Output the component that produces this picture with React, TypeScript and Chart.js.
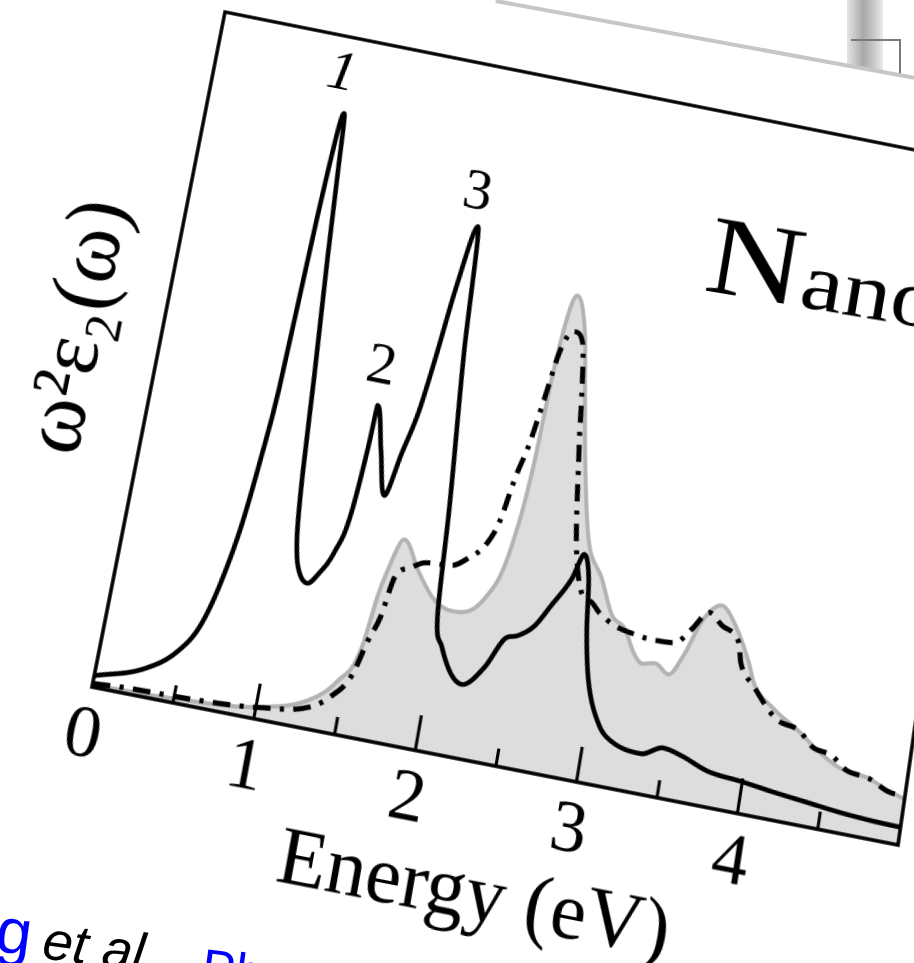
import React, { useEffect, useRef } from "react";
import { Chart, registerables } from "chart.js";

Chart.register(...registerables);

// ---------------- data (energy in eV, value in % of plot height) ----------------
const SOLID_E = [0, 0.29, 0.47, 0.58, 0.65, 0.71, 0.75, 0.78, 0.815, 0.845, 0.862, 0.89, 0.925, 0.98, 1.02, 1.05, 1.08, 1.12, 1.17, 1.23, 1.3, 1.36, 1.39, 1.4, 1.47, 1.54, 1.6, 1.66, 1.7, 1.75, 1.82, 1.87, 1.95, 1.99, 2.05, 2.21, 2.33, 2.42, 2.5, 2.59, 2.67, 2.77, 2.82, 2.87, 2.91, 2.97, 3.08, 3.17, 3.36, 3.49, 3.61, 3.78, 3.99, 4.2, 4.41, 4.62, 4.83, 5.0];
const SOLID_V = [1.6, 3.9, 7.2, 11.6, 17.9, 26.6, 36.6, 46.6, 71.9, 86.5, 88.5, 80, 67.3, 49.5, 35.3, 27.5, 23.4, 21.0, 20.1, 21.8, 25.2, 31.4, 41.5, 47.1, 40.8, 34.5, 41.0, 47.6, 55.1, 66.0, 75.8, 57.5, 34.2, 19.6, 15.0, 10.3, 13.3, 17.7, 18.6, 20.4, 23.7, 28.1, 31.8, 28.6, 21.4, 14.4, 8.4, 6.5, 5.6, 7.0, 6.4, 5.0, 4.5, 3.9, 3.4, 2.9, 2.6, 2.5];

const DASH_E = [0, 0.21, 0.62, 1.03, 1.33, 1.44, 1.54, 1.6, 1.65, 1.69, 1.77, 1.86, 2.03, 2.12, 2.21, 2.27, 2.32, 2.37, 2.41, 2.46, 2.53, 2.59, 2.64, 2.67, 2.69, 2.73, 2.77, 2.85, 2.91, 2.97, 3.08, 3.23, 3.3, 3.46, 3.55, 3.64, 3.73, 3.85, 3.88, 3.98, 4.16, 4.29, 4.4, 4.51, 4.63, 4.76, 4.89, 5.0];
const DASH_V = [0.5, 0.8, 1.0, 1.7, 3.2, 5.2, 8.6, 13.9, 17.5, 23.2, 25.0, 26.2, 26.6, 28.1, 30.4, 34.1, 40.8, 45.9, 52.0, 60.0, 63.3, 62.0, 54.5, 48.3, 44.8, 37.6, 31.9, 26.0, 25.3, 24.0, 22.6, 21.9, 21.7, 21.9, 24.3, 27.1, 25.6, 23.6, 20.9, 18.0, 13.9, 13.2, 11.1, 10.6, 8.8, 8.4, 7.1, 6.8];

const GRAY_E = [0, 0.5, 1.03, 1.32, 1.46, 1.57, 1.61, 1.63, 1.71, 1.83, 1.95, 2.07, 2.26, 2.37, 2.42, 2.44, 2.51, 2.59, 2.66, 2.73, 2.84, 2.95, 3.05, 3.14, 3.22, 3.28, 3.36, 3.45, 3.53, 3.6, 3.71, 3.8, 3.93, 3.98, 4.13, 4.29, 4.43, 4.58, 4.76, 4.89, 5.0];
const GRAY_V = [0.3, 0.6, 1.8, 4.2, 7.4, 12.8, 20.4, 22.9, 28.9, 24.8, 21.4, 20.2, 22.9, 31.2, 43.8, 56.3, 68.6, 64.0, 54.5, 45.0, 33.3, 28.9, 24.0, 22.5, 19.3, 18.1, 18.5, 17.3, 20.7, 25.5, 28.4, 26.4, 21.1, 18.4, 15.3, 13.1, 10.8, 9.0, 8.4, 7.2, 6.5];

const X_TICK_VALUES = [0, 1, 2, 3, 4];
const X_TICK_LABELS = ["0", "1", "2", "3", "4"];
const MAJOR_MARKS = [1, 2, 3, 4];
const MINOR_MARKS = [0.5, 1.5, 2.5, 3.5, 4.5];

const PEAK_LABELS = ["1", "2", "3"];
const PEAK_LABEL_E = [0.8, 1.38, 1.78];
const PEAK_LABEL_V = [94.2, 52.6, 80.6];

const X_TITLE = "Energy (eV)";
const Y_TITLE = "ω²ε₂(ω)";

// ---------------- layout ----------------
const CANVAS_W = 965;
const CANVAS_H = 885;
const QUAD_TL: [number, number] = [225, 12];
const QUAD_TR: [number, number] = [995, 166];
const QUAD_BR: [number, number] = [898, 845];
const QUAD_BL: [number, number] = [92, 687];
const SERIF = '"Liberation Serif", "DejaVu Serif", serif';
const SANS = '"Liberation Sans", Arial, sans-serif';

function squareToQuad(p0: number[], p1: number[], p2: number[], p3: number[]) {
  const [x0, y0] = p0, [x1, y1] = p1, [x2, y2] = p2, [x3, y3] = p3;
  const sx = x0 - x1 + x2 - x3;
  const sy = y0 - y1 + y2 - y3;
  const dx1 = x1 - x2, dx2 = x3 - x2, dy1 = y1 - y2, dy2 = y3 - y2;
  const den = dx1 * dy2 - dx2 * dy1;
  const g = (sx * dy2 - dx2 * sy) / den;
  const h = (dx1 * sy - sx * dy1) / den;
  return {
    a: x1 - x0 + g * x1, b: x3 - x0 + h * x3, c: x0,
    d: y1 - y0 + g * y1, e: y3 - y0 + h * y3, f: y0,
    g, h,
  };
}

function homographyCss(area: { left: number; top: number; right: number; bottom: number }) {
  const L = area.left, T = area.top;
  const W = area.right - area.left, H = area.bottom - area.top;
  const m = squareToQuad(QUAD_TL, QUAD_TR, QUAD_BR, QUAD_BL);
  const A = m.a / W, B = m.b / H, C = m.c - (m.a * L) / W - (m.b * T) / H;
  const D = m.d / W, E = m.e / H, F = m.f - (m.d * L) / W - (m.e * T) / H;
  const G = m.g / W, Hp = m.h / H, I = 1 - (m.g * L) / W - (m.h * T) / H;
  return `matrix3d(${A},${D},0,${G},${B},${E},0,${Hp},0,0,1,0,${C},${F},0,${I})`;
}

const frameMarks = {
  id: "frameMarks",
  afterDatasetsDraw(chart: any) {
    const { ctx, chartArea: a, scales } = chart;
    const xs = scales.x, ys = scales.y;
    ctx.save();
    ctx.strokeStyle = "#000";
    ctx.lineWidth = 3;
    ctx.beginPath();
    MAJOR_MARKS.forEach((v) => {
      const px = xs.getPixelForValue(v);
      ctx.moveTo(px, a.bottom);
      ctx.lineTo(px, a.bottom - 34);
    });
    MINOR_MARKS.forEach((v) => {
      const px = xs.getPixelForValue(v);
      ctx.moveTo(px, a.bottom);
      ctx.lineTo(px, a.bottom - 17);
    });
    ctx.stroke();
    ctx.lineWidth = 3.5;
    ctx.strokeRect(a.left, a.top, a.right - a.left, a.bottom - a.top);
    ctx.fillStyle = "#000";
    ctx.textAlign = "center";
    ctx.textBaseline = "middle";
    PEAK_LABELS.forEach((t, i) => {
      ctx.font = (i === 0 ? "italic " : "") + "58px " + SERIF;
      ctx.fillText(t, xs.getPixelForValue(PEAK_LABEL_E[i]), ys.getPixelForValue(PEAK_LABEL_V[i]));
    });
    ctx.restore();
  },
};

function pts(es: number[], vs: number[]) {
  return es.map((e, i) => ({ x: e, y: vs[i] }));
}

export default function App() {
  const canvasRef = useRef<HTMLCanvasElement>(null);
  const wrapRef = useRef<HTMLDivElement>(null);

  useEffect(() => {
    const chart = new Chart(canvasRef.current as HTMLCanvasElement, {
      type: "line",
      data: {
        datasets: [
          {
            data: pts(GRAY_E, GRAY_V),
            borderColor: "#b3b3b3",
            borderWidth: 4,
            backgroundColor: "#dddddd",
            fill: "origin",
            pointRadius: 0,
            cubicInterpolationMode: "monotone",
            order: 3,
          },
          {
            data: pts(DASH_E, DASH_V),
            borderColor: "#000",
            borderWidth: 5,
            borderDash: [17, 9, 4, 9],
            fill: false,
            pointRadius: 0,
            cubicInterpolationMode: "monotone",
            order: 2,
          },
          {
            data: pts(SOLID_E, SOLID_V),
            borderColor: "#000",
            borderWidth: 4.6,
            fill: false,
            pointRadius: 0,
            cubicInterpolationMode: "monotone",
            order: 1,
          },
        ],
      },
      options: {
        animation: false,
        responsive: false,
        devicePixelRatio: 2,
        events: [],
        layout: { padding: { left: 10, right: 40, top: 20, bottom: 10 } },
        plugins: { legend: { display: false }, tooltip: { enabled: false } },
        scales: {
          x: {
            type: "linear",
            min: 0,
            max: 5,
            grid: { display: false },
            border: { display: false },
            afterBuildTicks: (s: any) => {
              s.ticks = X_TICK_VALUES.map((v) => ({ value: v }));
            },
            ticks: {
              autoSkip: false,
              maxRotation: 0,
              padding: 12,
              color: "#000",
              font: { family: SERIF, size: 70, lineHeight: 0.8 },
              callback: (_v: any, i: number) => X_TICK_LABELS[i],
            },
            title: {
              display: true,
              text: X_TITLE,
              color: "#000",
              font: { family: SERIF, size: 77, lineHeight: 1 },
              padding: { top: 0, bottom: 4 },
            },
          },
          y: {
            type: "linear",
            min: 0,
            max: 100,
            grid: { display: false },
            border: { display: false },
            ticks: { display: false },
            title: {
              display: true,
              text: Y_TITLE,
              color: "#000",
              font: { family: SERIF, size: 84, lineHeight: 1 },
              padding: { top: 0, bottom: 30 },
            },
          },
        },
      },
      plugins: [frameMarks],
    } as any);
    if (wrapRef.current) wrapRef.current.style.transform = homographyCss(chart.chartArea);
    return () => chart.destroy();
  }, []);

  return (
    <div style={{ position: "absolute", left: 0, top: 0, width: 914, height: 963, overflow: "hidden", background: "#fff" }}>
      {/* slide behind, top right */}
      <div style={{ position: "absolute", left: 847, top: 0, width: 36, height: 80, background: "linear-gradient(to right, #e4e4e4, #a9a9a9 45%, #c9c9c9 75%, #ececec)" }} />
      <div style={{ position: "absolute", left: 851, top: 39, width: 50, height: 40, borderTop: "2px solid #7a7a7a", borderRight: "2px solid #7a7a7a", boxSizing: "border-box" }} />
      <div style={{ position: "absolute", left: 496, top: 2, width: 900, height: 400, background: "#fff", transformOrigin: "0 0", transform: "rotate(10.4deg)" }} />
      <div style={{ position: "absolute", left: 496, top: -1, width: 440, height: 4, background: "#c6c6c6", transformOrigin: "0 0", transform: "rotate(10.4deg)" }} />

      <div ref={wrapRef} style={{ position: "absolute", left: 0, top: 0, width: CANVAS_W, height: CANVAS_H, transformOrigin: "0 0" }}>
        <canvas ref={canvasRef} width={CANVAS_W} height={CANVAS_H} style={{ display: "block", width: CANVAS_W, height: CANVAS_H }} />
      </div>

      <div style={{ position: "absolute", left: 702, top: 196, whiteSpace: "nowrap", fontFamily: SERIF, color: "#000", lineHeight: 1, transformOrigin: "0 94px", transform: "rotate(9.5deg) scaleX(1.2)" }}>
        <span style={{ fontSize: 112 }}>N</span>
        <span style={{ fontSize: 80 }}>ano</span>
      </div>

      <div style={{ position: "absolute", left: -6, top: 897, fontFamily: SANS, fontSize: 64, lineHeight: 1, color: "#0000ff", transformOrigin: "0 54px", transform: "rotate(7.5deg)", whiteSpace: "nowrap" }}>g</div>
      <div style={{ position: "absolute", left: 41, top: 912, fontFamily: SANS, fontSize: 54, lineHeight: 1, fontStyle: "italic", color: "#000", transformOrigin: "0 46px", transform: "rotate(7.5deg)", whiteSpace: "nowrap" }}>et al.</div>
      <div style={{ position: "absolute", left: 200, top: 941, fontFamily: SANS, fontSize: 50, lineHeight: 1, color: "#0000ff", transformOrigin: "0 41px", transform: "rotate(7.5deg)", whiteSpace: "nowrap" }}>Ph</div>
    </div>
  );
}
